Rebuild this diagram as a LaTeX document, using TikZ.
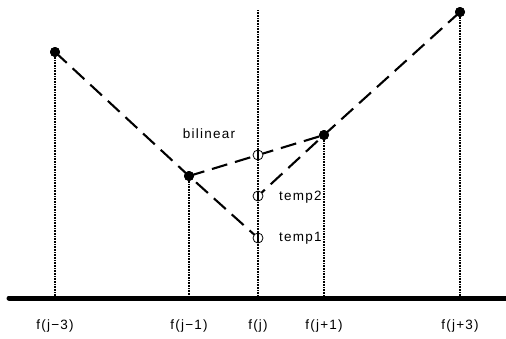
\documentclass[tikz,border=0pt]{standalone}
\usepackage{fontspec}
\setmainfont{Liberation Sans}
\begin{document}
\begin{tikzpicture}[x=1pt,y=-1pt,
  lbl/.style={font=\fontsize{13.5}{15}\selectfont\addfontfeatures{LetterSpace=9}, inner sep=0pt},
  dashline/.style={line width=2.1pt, dash pattern=on 16pt off 8pt},
  vdot/.style={line width=1.8pt, dash pattern=on 1pt off 0.6pt},
  pt/.style={circle, fill=black, inner sep=0pt, minimum size=10pt},
  opt/.style={circle, draw=black, line width=0.8pt, fill=white, inner sep=0pt, minimum size=10pt}]
\useasboundingbox (0,0) rectangle (506,338);
% axis
\coordinate (a0) at (9,298);
\coordinate (a1) at (506,298);
\draw[line width=5pt, line cap=round] (a0) -- (a1);
% base points
\coordinate (b3m) at (55,298);
\coordinate (b1m) at (189,298);
\coordinate (b0) at (258,298);
\coordinate (b1p) at (324,298);
\coordinate (b3p) at (460,298);
\coordinate (top0) at (258,10);
% data points
\node[pt] (p3m) at (55,52) {};
\node[pt] (p1m) at (189,176) {};
\node[pt] (p1p) at (324,135) {};
\node[pt] (p3p) at (460,12) {};
% vertical lines
\draw[vdot] (p3m.center) -- (b3m);
\draw[vdot] (p1m.center) -- (b1m);
\draw[vdot] (top0) -- (b0);
\draw[vdot] (p1p.center) -- (b1p);
\draw[vdot] (p3p.center) -- (b3p);
% open circles
\coordinate (cb) at (258,155);
\coordinate (c2) at (258,196);
\coordinate (c1) at (258,238);
% dashed lines
\draw[dashline] (p3m.center) -- (p1m.center) -- (c1);
\draw[dashline] (p3p.center) -- (p1p.center) -- (c2);
\draw[dashline] (p1m.center) -- (p1p.center);
\node[opt] (ob) at (cb) {};
\node[opt] (o2) at (c2) {};
\node[opt] (o1) at (c1) {};
\draw[line width=1.2pt] (ob.north) -- (ob.south) (o2.north) -- (o2.south) (o1.north) -- (o1.south);
\node[pt] at (p3m) {};
\node[pt] at (p1m) {};
\node[pt] at (p1p) {};
\node[pt] at (p3p) {};
% labels
\node[lbl] (lb) at (209,134) {bilinear};
\node[lbl, anchor=west] (l2) at (279,197) {temp2};
\node[lbl, anchor=west] (l1) at (279,238) {temp1};
\node[lbl] (t3m) at (55,326) {f(j−3)};
\node[lbl] (t1m) at (189,326) {f(j−1)};
\node[lbl] (t0) at (258,326) {f(j)};
\node[lbl] (t1p) at (324,326) {f(j+1)};
\node[lbl] (t3p) at (460,326) {f(j+3)};
\end{tikzpicture}
\end{document}
